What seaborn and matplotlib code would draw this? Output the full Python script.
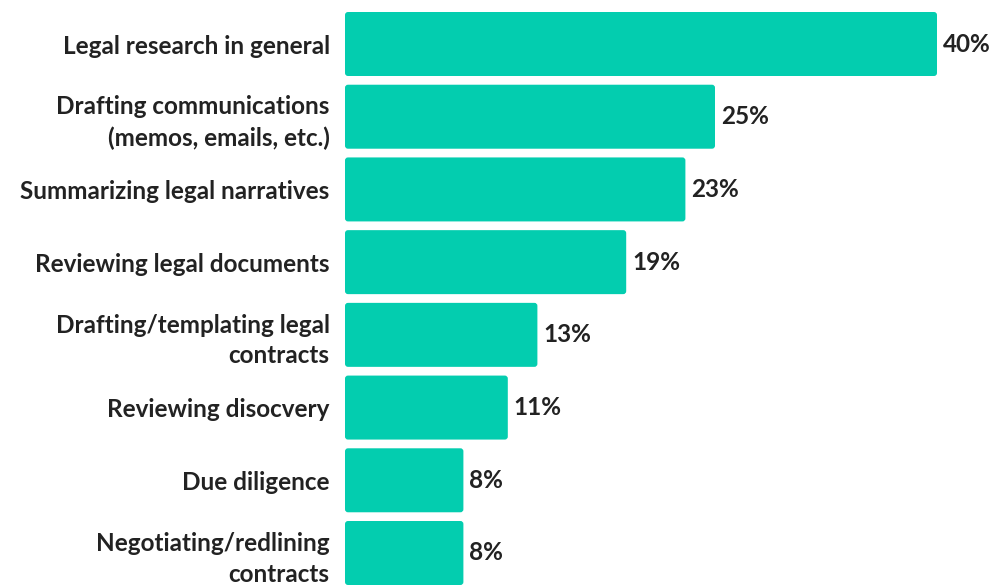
import matplotlib
matplotlib.use("Agg")
import matplotlib.pyplot as plt
from matplotlib.patches import FancyBboxPatch
import seaborn as sns
import pandas as pd

categories = [
    "Legal research in general",
    "Drafting communications\n(memos, emails, etc.)",
    "Summarizing legal narratives",
    "Reviewing legal documents",
    "Drafting/templating legal\ncontracts",
    "Reviewing disocvery",
    "Due diligence",
    "Negotiating/redlining\ncontracts",
]
values = [40, 25, 23, 19, 13, 11, 8, 8]
value_labels = ["40%", "25%", "23%", "19%", "13%", "11%", "8%", "8%"]

df = pd.DataFrame({"task": categories, "pct": values})

sns.set_theme(style="white")
plt.rcParams["font.family"] = ["Lato", "DejaVu Sans"]

W, H = 998, 586
fig = plt.figure(figsize=(W / 100, H / 100), dpi=100)
left_px = 345
ax = fig.add_axes([left_px / W, 0, 1 - left_px / W, 1])

bar_color = "#03CDAF"
sns.barplot(data=df, y="task", x="pct", orient="h", color=bar_color,
            saturation=1, width=0.88, ax=ax)

px_per_unit = (937 - left_px) / 40.0
ax.set_xlim(0, (W - left_px) / px_per_unit)
step = (553 - 44) / 7.0
ax.set_ylim(7 + (H - 553) / step, -44 / step)

# slightly rounded bar corners
radius_px = 3
for p in list(ax.patches):
    x0, y0 = p.get_x(), p.get_y()
    w, h = p.get_width(), p.get_height()
    rb = FancyBboxPatch((x0, y0), w, h,
                        boxstyle=f"round,pad=0,rounding_size={radius_px / px_per_unit}",
                        mutation_aspect=px_per_unit / step,
                        facecolor=bar_color, edgecolor="none")
    p.remove()
    ax.add_patch(rb)

fs = 17.5
for i, (v, lab) in enumerate(zip(values, value_labels)):
    ax.text(v + 6 / px_per_unit, i, lab, va="center", ha="left",
            fontsize=fs, fontweight="bold", color="#222222")

ax.set_xlabel("")
ax.set_ylabel("")
ax.set_xticks([])
ax.tick_params(axis="y", length=0, pad=11)
for t in ax.get_yticklabels():
    t.set_fontsize(fs)
    t.set_fontweight("bold")
    t.set_color("#222222")
    t.set_linespacing(1.4)
for s in ax.spines.values():
    s.set_visible(False)

fig.savefig("out.png", dpi=100, facecolor="white")
